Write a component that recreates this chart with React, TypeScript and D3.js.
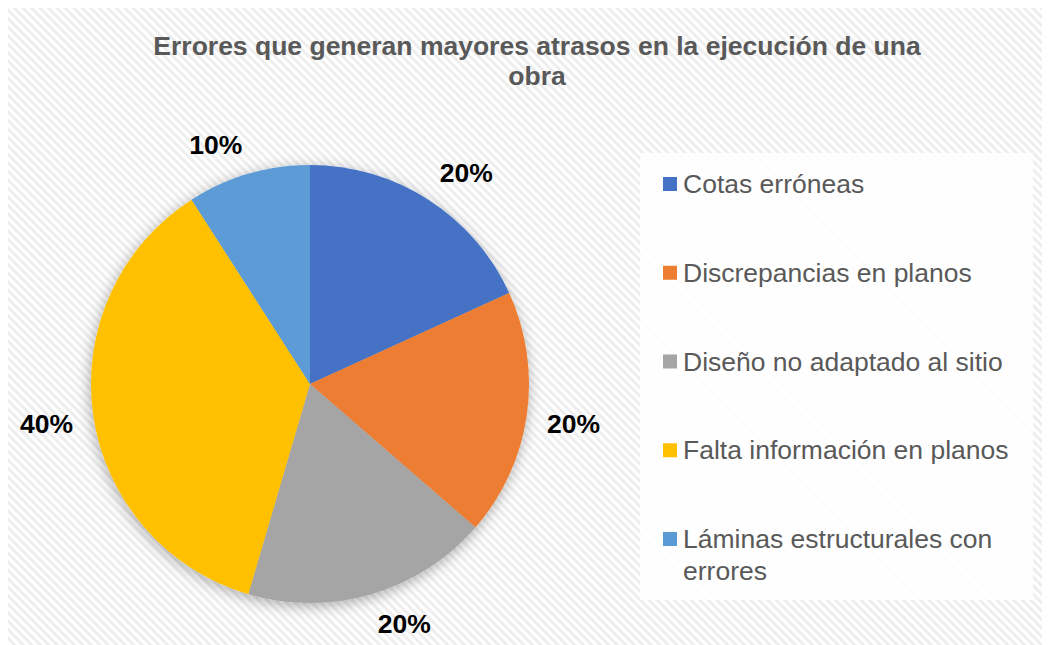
import React from "react";
import * as d3 from "d3";

const categories = [
  "Cotas erróneas",
  "Discrepancias en planos",
  "Diseño no adaptado al sitio",
  "Falta información en planos",
  "Láminas estructurales con errores",
];
const counts = [2, 2, 2, 4, 1];
const percentLabels = ["20%", "20%", "20%", "40%", "10%"];
const colors = ["#4472C4", "#ED7D31", "#A5A5A5", "#FFC000", "#5B9BD5"];
const titleLines = ["Errores que generan mayores atrasos en la ejecución de una", "obra"];
const legendLines = [
  ["Cotas erróneas"],
  ["Discrepancias en planos"],
  ["Diseño no adaptado al sitio"],
  ["Falta información en planos"],
  ["Láminas estructurales con", "errores"],
];

const W = 1042;
const H = 637;
const font = "'Liberation Sans', Arial, sans-serif";

export default function App() {
  // work in page coordinates, the svg sits after the 8px body margin
  const cx = 310;
  const cy = 384;
  const radius = 219;

  const pie = d3.pie<number>().sort(null).value((d) => d);
  const arcs = pie(counts);
  const arc = d3.arc<d3.PieArcDatum<number>>().innerRadius(0).outerRadius(radius);
  const ring = radius + 20;
  const anchorArc = d3.arc<d3.PieArcDatum<number>>().innerRadius(ring).outerRadius(ring);

  // outside-end labels: push the label box out from the anchor ring
  const halfW = 27;
  const halfH = 10;
  const clamp = (v: number) => Math.max(-1, Math.min(1, v));
  const labelPos = (a: d3.PieArcDatum<number>) => {
    const [px, py] = anchorArc.centroid(a);
    return [px + clamp(px / (ring * 0.25)) * halfW, py + clamp(py / (ring * 0.25)) * halfH];
  };

  const legendY = d3.scaleLinear().domain([0, 4]).range([193, 548]);

  return (
    <svg width={W} height={H} style={{ display: "block" }}>
      <defs>
        <pattern id="hatch" width="6" height="6" patternUnits="userSpaceOnUse" patternTransform="rotate(45)">
          <rect width="6" height="6" fill="#ffffff" />
          <rect width="6" height="3" fill="#eeeeee" />
        </pattern>
        <filter id="shadow" x="-20%" y="-20%" width="140%" height="140%">
          <feDropShadow dx="-1" dy="3" stdDeviation="7" floodColor="#000" floodOpacity="0.32" />
        </filter>
      </defs>
      <g transform="translate(-8,-8)">
        <rect x={8} y={8} width={W} height={H} fill="url(#hatch)" />

        {titleLines.map((t, i) => (
          <text
            key={i}
            x={537}
            y={55 + i * 30}
            textAnchor="middle"
            fontFamily={font}
            fontWeight="bold"
            fontSize={26.5}
            fill="#595959"
          >
            {t}
          </text>
        ))}

        <g transform={`translate(${cx},${cy})`}>
          <g filter="url(#shadow)">
            {arcs.map((a, i) => (
              <path key={i} d={arc(a) || ""} fill={colors[i]} />
            ))}
          </g>
          {arcs.map((a, i) => {
            const [x, y] = labelPos(a);
            return (
              <text
                key={i}
                x={x}
                y={y}
                dy="0.36em"
                textAnchor="middle"
                fontFamily={font}
                fontWeight="bold"
                fontSize={26.5}
                fill="#000"
              >
                {percentLabels[i]}
              </text>
            );
          })}
        </g>

        <rect x={640} y={153} width={393} height={447} fill="#ffffff" opacity={0.85} />
        {categories.map((c, i) => (
          <g key={c}>
            <rect x={663} y={legendY(i) - 16} width={14} height={14} fill={colors[i]} />
            {legendLines[i].map((l, j) => (
              <text
                key={j}
                x={683}
                y={legendY(i) + j * 31.5}
                fontFamily={font}
                fontSize={26.5}
                fill="#595959"
              >
                {l}
              </text>
            ))}
          </g>
        ))}
      </g>
    </svg>
  );
}
